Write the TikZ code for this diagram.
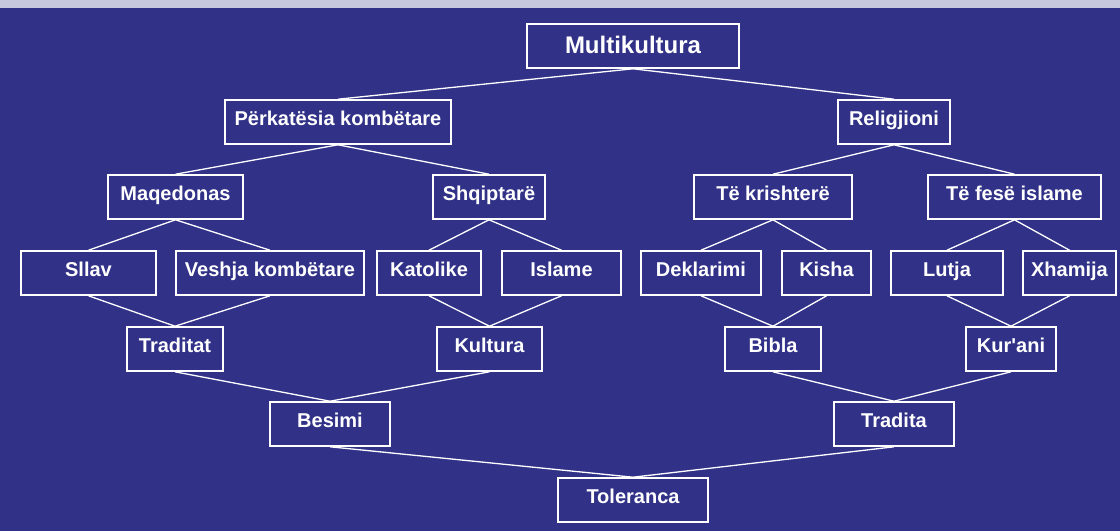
\documentclass[tikz,border=0pt]{standalone}
\usepackage{fontspec}
\newfontfamily\arialfont{Liberation Sans}
\definecolor{bgblue}{RGB}{48,49,135}
\definecolor{topstrip}{RGB}{199,199,222}
\begin{document}
\begin{tikzpicture}[x=1pt,y=-1pt,
  box/.style={draw=white,line width=1.6pt,fill=bgblue,text=white,font=\arialfont\bfseries\fontsize{20}{22}\selectfont,
    inner sep=0pt,minimum height=44pt,text height=14pt,text depth=6.7pt},
  link/.style={draw=white,line width=1.3pt}]
\useasboundingbox (0,0) rectangle (1120,531);
\fill[bgblue] (0,0) rectangle (1120,531);
\fill[topstrip] (0,0) rectangle (1120,8);
% level 0
\node[box,minimum width=212pt,font=\arialfont\bfseries\fontsize{24}{26}\selectfont,text height=17pt,text depth=1.8pt] (multi) at (633,46) {Multikultura};
% level 1
\node[box,minimum width=226pt] (perk) at (338,122) {Përkatësia kombëtare};
\node[box,minimum width=112pt] (relig) at (894,122) {Religjioni};
% level 2
\node[box,minimum width=135pt] (maq) at (175.5,197) {Maqedonas};
\node[box,minimum width=112pt] (shq) at (489,197) {Shqiptarë};
\node[box,minimum width=158pt] (krish) at (773,197) {Të krishterë};
\node[box,minimum width=173pt] (fese) at (1014.5,197) {Të fesë islame};
% level 3
\node[box,minimum width=135pt] (sllav) at (88.5,273) {Sllav};
\node[box,minimum width=188pt] (vesh) at (270,273) {Veshja kombëtare};
\node[box,minimum width=104pt] (kato) at (429,273) {Katolike};
\node[box,minimum width=119pt] (isl) at (561.5,273) {Islame};
\node[box,minimum width=120pt] (dekl) at (701,273) {Deklarimi};
\node[box,minimum width=89pt] (kisha) at (826.5,273) {Kisha};
\node[box,minimum width=112pt] (lutja) at (947,273) {Lutja};
\node[box,minimum width=93pt] (xham) at (1069.5,273) {Xhamija};
% level 4
\node[box,minimum width=96pt] (tradt) at (175,349) {Traditat};
\node[box,minimum width=105pt] (kult) at (489.5,349) {Kultura};
\node[box,minimum width=96pt] (bibla) at (773,349) {Bibla};
\node[box,minimum width=90pt] (kur) at (1011,349) {Kur'ani};
% level 5
\node[box,minimum width=120pt] (bes) at (330,424) {Besimi};
\node[box,minimum width=120pt] (trad) at (894,424) {Tradita};
% level 6
\node[box,minimum width=150pt] (tol) at (633,500) {Toleranca};
% connectors
\draw[link] (multi.south) -- (perk.north);
\draw[link] (multi.south) -- (relig.north);
\draw[link] (perk.south) -- (maq.north);
\draw[link] (perk.south) -- (shq.north);
\draw[link] (relig.south) -- (krish.north);
\draw[link] (relig.south) -- (fese.north);
\draw[link] (maq.south) -- (sllav.north);
\draw[link] (maq.south) -- (vesh.north);
\draw[link] (shq.south) -- (kato.north);
\draw[link] (shq.south) -- (isl.north);
\draw[link] (krish.south) -- (dekl.north);
\draw[link] (krish.south) -- (kisha.north);
\draw[link] (fese.south) -- (lutja.north);
\draw[link] (fese.south) -- (xham.north);
\draw[link] (sllav.south) -- (tradt.north);
\draw[link] (vesh.south) -- (tradt.north);
\draw[link] (kato.south) -- (kult.north);
\draw[link] (isl.south) -- (kult.north);
\draw[link] (dekl.south) -- (bibla.north);
\draw[link] (kisha.south) -- (bibla.north);
\draw[link] (lutja.south) -- (kur.north);
\draw[link] (xham.south) -- (kur.north);
\draw[link] (tradt.south) -- (bes.north);
\draw[link] (kult.south) -- (bes.north);
\draw[link] (bibla.south) -- (trad.north);
\draw[link] (kur.south) -- (trad.north);
\draw[link] (bes.south) -- (tol.north);
\draw[link] (trad.south) -- (tol.north);
\end{tikzpicture}
\end{document}
